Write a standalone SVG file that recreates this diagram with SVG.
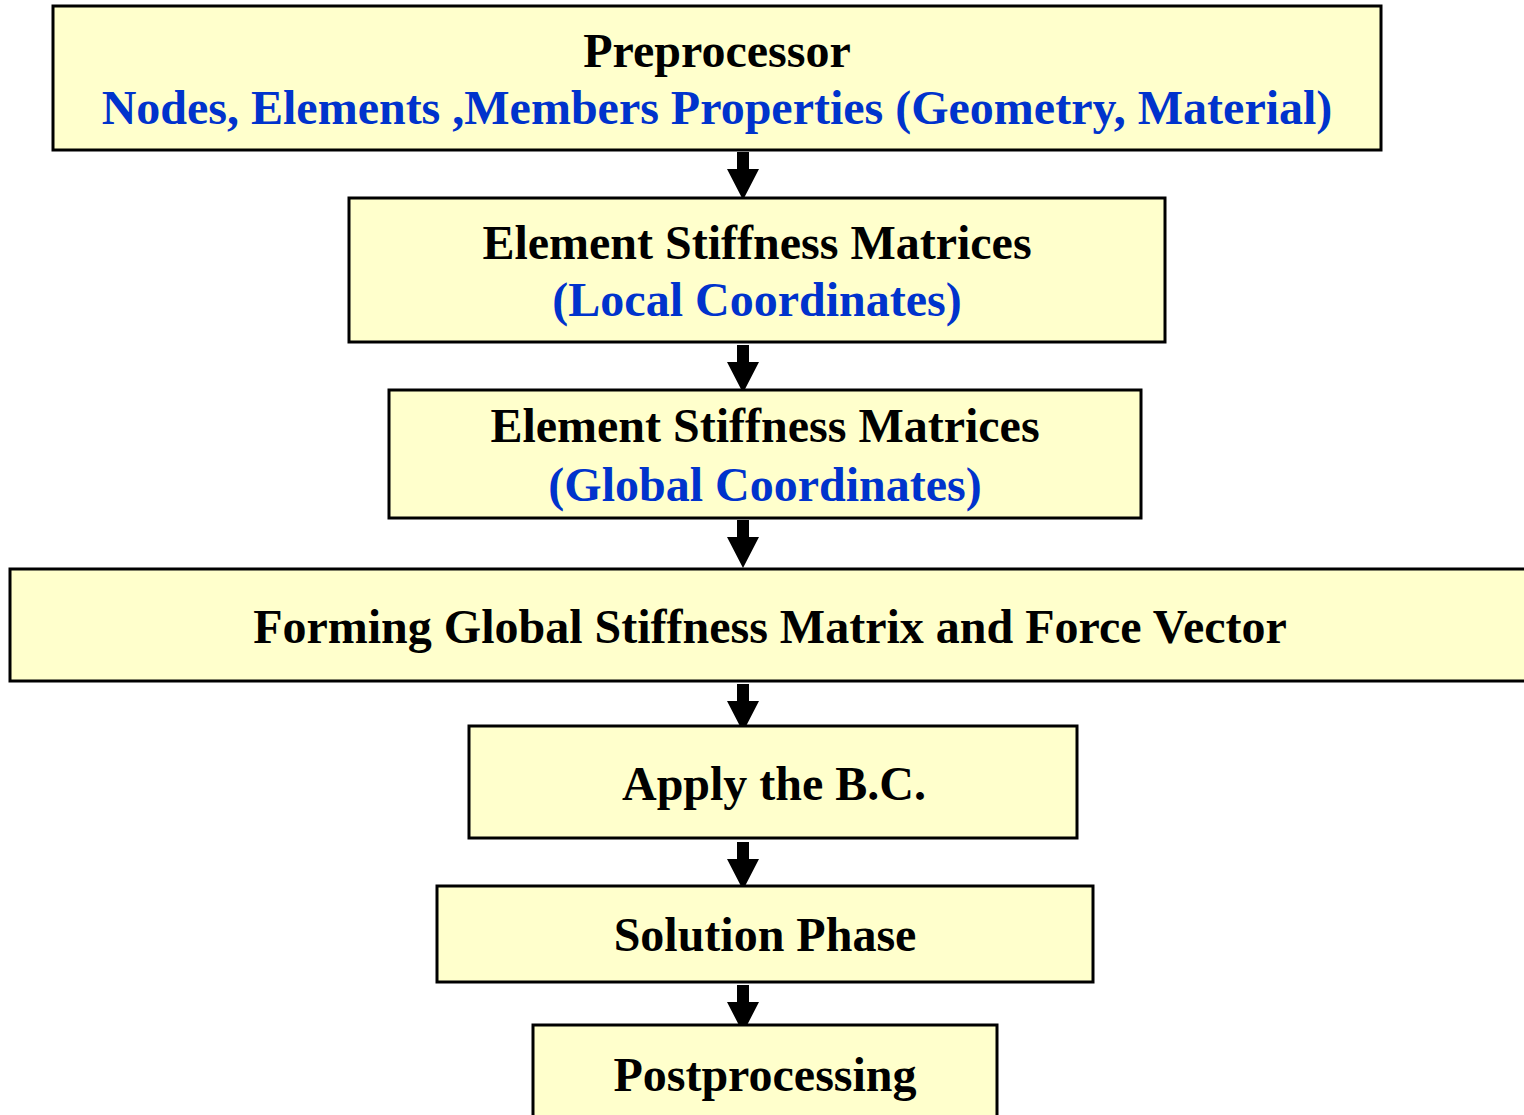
<svg xmlns="http://www.w3.org/2000/svg" width="1524" height="1115" viewBox="0 0 1524 1115">
<defs>
<style>
.box{fill:#FFFFCC;stroke:#000;stroke-width:3}
.t{font-family:"Liberation Serif","Times New Roman",serif;font-weight:bold;font-size:48px;text-anchor:middle;fill:#000}
.b{fill:#0033CC}
.arr{fill:#000}
</style>
<path id="arrow" d="M-6,0 H6 V17 H16 L0,48 L-16,17 H-6 Z"/>
</defs>
<rect width="1524" height="1115" fill="#fff"/>
<g id="connectors" class="arr">
<use href="#arrow" x="743" y="152"/>
<use href="#arrow" x="743" y="345"/>
<use href="#arrow" x="743" y="520"/>
<use href="#arrow" x="743" y="684"/>
<use href="#arrow" x="743" y="842"/>
<use href="#arrow" x="743" y="985"/>
</g>
<g id="preprocessor">
<rect class="box" x="53" y="6" width="1328" height="144"/>
<text class="t" x="717" y="67">Preprocessor</text>
<text class="t b" x="717" y="124">Nodes, Elements ,Members Properties (Geometry, Material)</text>
</g>
<g id="local">
<rect class="box" x="349" y="198" width="816" height="144"/>
<text class="t" x="757" y="259">Element Stiffness Matrices</text>
<text class="t b" x="757" y="316">(Local Coordinates)</text>
</g>
<g id="global">
<rect class="box" x="389" y="390" width="752" height="128"/>
<text class="t" x="765" y="442">Element Stiffness Matrices</text>
<text class="t b" x="765" y="501">(Global Coordinates)</text>
</g>
<g id="forming">
<rect class="box" x="10" y="569" width="1520" height="112"/>
<text class="t" x="770" y="643">Forming Global Stiffness Matrix and Force Vector</text>
</g>
<g id="bc">
<rect class="box" x="469" y="726" width="608" height="112"/>
<text class="t" x="774" y="800">Apply the B.C.</text>
</g>
<g id="solution">
<rect class="box" x="437" y="886" width="656" height="96"/>
<text class="t" x="765" y="951">Solution Phase</text>
</g>
<g id="post">
<rect class="box" x="533" y="1025" width="464" height="100"/>
<text class="t" x="765" y="1091">Postprocessing</text>
</g>
</svg>
